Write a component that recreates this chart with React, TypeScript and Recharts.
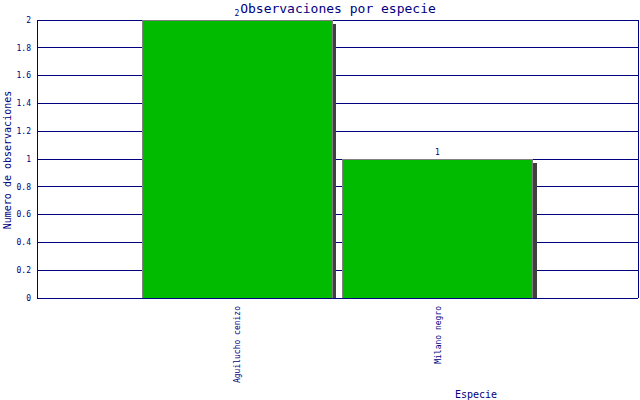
import React from "react";
import { ComposedChart, Bar, XAxis, YAxis, CartesianGrid, LabelList } from "recharts";

const species = ["Aguilucho cenizo", "Milano negro"];
const counts = [2, 1];
const yTicks = [0, 0.2, 0.4, 0.6, 0.8, 1, 1.2, 1.4, 1.6, 1.8, 2];

const data = species.map((name, i) => ({ name, value: counts[i] }));

const NAVY = "#000080";
const FONT = "'DejaVu Sans Mono', monospace";

const BarShape = (props: any) => {
  const { x, y, width, height } = props;
  return (
    <g shapeRendering="crispEdges">
      <rect x={x + 4} y={y + 4} width={width} height={Math.max(0, height - 4)} fill="#404040" />
      <rect x={x} y={y} width={width} height={height} fill="#00bb00" stroke="#808080" strokeWidth={1} />
    </g>
  );
};

const XTick = (props: any) => {
  const { x, y, payload } = props;
  return (
    <g transform={`translate(${x},${y})`}>
      <text transform="rotate(-90)" x={0} y={3} textAnchor="end" fill={NAVY} fontSize={8} fontFamily={FONT}>
        {payload.value}
      </text>
    </g>
  );
};

export default function App() {
  return (
    <div style={{ position: "absolute", left: 0, top: 0, width: 640, height: 400, background: "#fff" }}>
      <style>{`.recharts-cartesian-grid line, .recharts-cartesian-axis-line { shape-rendering: crispEdges; }`}</style>
      <ComposedChart width={640} height={400} data={data} margin={{ top: 20, right: 1, left: 0, bottom: 0 }}>
        <CartesianGrid yAxisId="left" vertical={false} stroke={NAVY} strokeWidth={1} strokeOpacity={1} />
        <XAxis
          dataKey="name"
          type="category"
          padding={{ left: 100, right: 100 }}
          interval={0}
          height={102}
          tick={<XTick />}
          tickLine={false}
          axisLine={{ stroke: NAVY }}
        />
        <YAxis
          yAxisId="left"
          domain={[0, 2]}
          ticks={yTicks}
          width={37}
          tickLine={false}
          axisLine={{ stroke: NAVY }}
          tickMargin={0}
          tick={{ fill: NAVY, fontSize: 8, fontFamily: FONT }}
        />
        <YAxis
          yAxisId="right"
          orientation="right"
          domain={[0, 2]}
          width={1}
          tick={false}
          tickLine={false}
          axisLine={{ stroke: NAVY }}
        />
        <Bar yAxisId="left" dataKey="value" barSize={190} shape={<BarShape />} isAnimationActive={false}>
          <LabelList dataKey="value" position="top" offset={4} fill={NAVY} fontSize={8} fontFamily={FONT} />
        </Bar>
        <text x={338} y={13} textAnchor="middle" fill={NAVY} fontSize={13} fontFamily={FONT}>
          Observaciones por especie
        </text>
        <text
          transform="translate(11,160) rotate(-90)"
          textAnchor="middle"
          fill={NAVY}
          fontSize={10}
          fontFamily={FONT}
        >
          Numero de observaciones
        </text>
        <text x={476} y={398} textAnchor="middle" fill={NAVY} fontSize={10} fontFamily={FONT}>
          Especie
        </text>
      </ComposedChart>
    </div>
  );
}
